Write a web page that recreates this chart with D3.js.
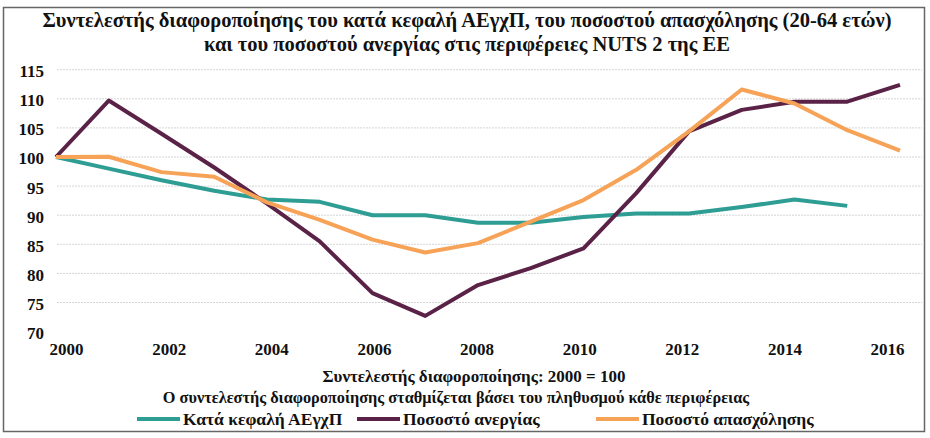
<!DOCTYPE html>
<html><head><meta charset="utf-8">
<script src="https://cdn.jsdelivr.net/npm/d3@7"></script>
<style>html,body{margin:0;padding:0;background:#fff;}</style></head>
<body><svg id="chart" width="930" height="438" style="font-family:'Liberation Serif',serif"></svg>
<script>
const years = [2000,2001,2002,2003,2004,2005,2006,2007,2008,2009,2010,2011,2012,2013,2014,2015,2016];
const gdpPerCapita = [100,98.0,96.0,94.2,92.7,92.3,90.0,90.0,88.7,88.7,89.7,90.3,90.3,91.4,92.7,91.6,null];
const unemployment = [100,109.7,104.0,98.2,92.0,85.5,76.6,72.7,78.0,80.9,84.3,93.8,104.4,108.1,109.5,109.5,112.4];
const employment   = [100,100.05,97.4,96.6,92.2,89.2,85.8,83.6,85.2,88.9,92.6,97.8,104.4,111.6,109.2,104.6,101.1];
const yTicks = [70,75,80,85,90,95,100,105,110,115];
const xTickLabels = [2000,2002,2004,2006,2008,2010,2012,2014,2016];
const titleLines = ["Συντελεστής διαφοροποίησης του κατά κεφαλή ΑΕγχΠ, του ποσοστού απασχόλησης (20-64 ετών)","και του ποσοστού ανεργίας στις περιφέρειες NUTS 2 της ΕΕ"];
const noteLines = ["Συντελεστής διαφοροποίησης: 2000 = 100","Ο συντελεστής διαφοροποίησης σταθμίζεται βάσει του πληθυσμού κάθε περιφέρειας"];
const seriesNames = ["Κατά κεφαλή ΑΕγχΠ","Ποσοστό ανεργίας","Ποσοστό απασχόλησης"];
const seriesColors = ["#2e9d93","#5a2246","#f6a257"];

const svg = d3.select("#chart");
function styleText(sel,size){
  sel.style("font-family","Liberation Serif").style("font-weight","bold")
     .style("font-size",size+"px").attr("fill","#111");
}
svg.append("rect").attr("x",3.5).attr("y",7.5).attr("width",921).attr("height",424)
  .attr("fill","none").attr("stroke","#666").attr("stroke-width",1.5);

const x = d3.scaleLinear().domain([2000,2016]).range([56,900]);
const xLab = d3.scaleLinear().domain([2000,2016]).range([66,887]);
const y = d3.scaleLinear().domain([70,115]).range([331.6,69.7]);

svg.append("g").selectAll("line").data(yTicks.filter(d=>d>70)).join("line")
  .attr("x1",57).attr("x2",922).attr("y1",d=>y(d)).attr("y2",d=>y(d))
  .attr("stroke","#d4d4d4").attr("stroke-width",1).attr("stroke-dasharray","2,1");

const yAxis = d3.axisLeft(y).tickValues(yTicks).tickSize(0).tickPadding(0);
const gy = svg.append("g").attr("transform","translate(44,1)").call(yAxis);
gy.select(".domain").remove();
gy.attr("font-family",null).attr("font-size",null);
styleText(gy.selectAll("text").attr("dy","0.35em"),17);

const xAxis = d3.axisBottom(xLab).tickValues(xTickLabels).tickFormat(d3.format("d")).tickSize(0).tickPadding(0);
const gx = svg.append("g").attr("transform","translate(0,343)").call(xAxis);
gx.select(".domain").remove();
gx.attr("font-family",null).attr("font-size",null);
styleText(gx.selectAll("text").attr("dy","0.71em"),17);

const series = [gdpPerCapita, unemployment, employment];
const line = d3.line().defined(d=>d[1]!=null).x(d=>x(d[0])).y(d=>y(d[1]));
series.forEach((s,i)=>{
  svg.append("path").datum(years.map((yr,j)=>[yr,s[j]]))
    .attr("fill","none").attr("stroke",seriesColors[i]).attr("stroke-width",4)
    .attr("stroke-linejoin","round").attr("d",line);
});

const title = svg.append("g").selectAll("text").data(titleLines).join("text")
  .attr("x",467).attr("y",(d,i)=>27+i*24).attr("text-anchor","middle").text(d=>d);
styleText(title,20.5);

const notes = svg.append("g").selectAll("text").data(noteLines).join("text")
  .attr("x",(d,i)=>i?456:474).attr("y",(d,i)=>382+i*21).attr("text-anchor","middle").text(d=>d);
styleText(notes,17);
notes.filter((d,i)=>i===1).style("font-size","16.3px");

const legendX = [137,357,596];
const lg = svg.append("g").selectAll("g").data(seriesNames).join("g")
  .attr("transform",(d,i)=>`translate(${legendX[i]},419)`);
lg.append("line").attr("x1",0).attr("x2",43).attr("y1",0).attr("y2",0)
  .attr("stroke",(d,i)=>seriesColors[i]).attr("stroke-width",4);
styleText(lg.append("text").attr("x",46).attr("y",6).text(d=>d),17.5);
</script></body></html>
